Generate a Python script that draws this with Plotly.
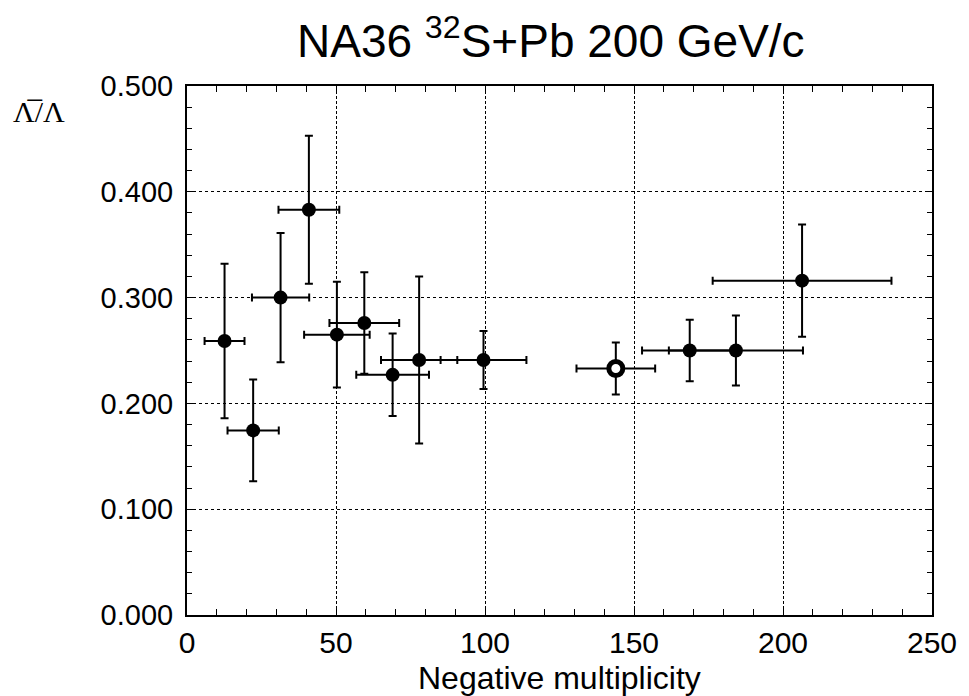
import plotly.graph_objects as go

# Data
mult = [12.6, 22.2, 31.4, 40.9, 50.3, 59.5, 69.0, 77.9, 99.5, 168.7, 184.2, 206.4]
mult_err = [6.7, 8.6, 9.6, 10.2, 11.0, 11.7, 12.2, 12.8, 14.4, 16.0, 22.5, 30.0]
ratio = [0.259, 0.1745, 0.300, 0.383, 0.265, 0.276, 0.227, 0.241, 0.241, 0.250, 0.250, 0.316]
ratio_err = [0.073, 0.048, 0.061, 0.070, 0.050, 0.048, 0.039, 0.079, 0.0275, 0.029, 0.033, 0.053]

# Point drawn with hollow centre
mult_open = [143.9]
mult_open_err = [13.2]
ratio_open = [0.233]
ratio_open_err = [0.0245]

x_ticks = [0, 50, 100, 150, 200, 250]
y_ticks = [0.0, 0.1, 0.2, 0.3, 0.4, 0.5]

ink = "black"
err_style = dict(type="data", color=ink, thickness=2, width=4)

fig = go.Figure()
fig.add_trace(go.Scatter(
    x=mult, y=ratio, mode="markers",
    marker=dict(symbol="circle", size=14, color=ink),
    error_x=dict(array=mult_err, **err_style),
    error_y=dict(array=ratio_err, **err_style),
    showlegend=False,
))
fig.add_trace(go.Scatter(
    x=mult_open, y=ratio_open, mode="markers",
    marker=dict(symbol="circle", size=14, color="white", line=dict(color=ink, width=5)),
    error_x=dict(array=mult_open_err, **err_style),
    error_y=dict(array=ratio_open_err, **err_style),
    showlegend=False,
))

font_main = "Liberation Sans, Arial, sans-serif"

fig.update_layout(
    width=969, height=696,
    margin=dict(l=187, r=34, t=86, b=81),
    paper_bgcolor="white", plot_bgcolor="white",
    font=dict(family=font_main, color=ink, size=28),
    xaxis=dict(
        range=[0, 250], tickvals=x_ticks, ticktext=[str(v) for v in x_ticks],
        showline=True, linecolor=ink, linewidth=2, mirror="allticks",
        ticks="inside", ticklen=6, tickcolor=ink, tickwidth=1,
        minor=dict(dtick=10, ticks="inside", ticklen=6, tickcolor=ink, tickwidth=1, showgrid=False),
        showgrid=True, gridcolor=ink, gridwidth=1, griddash="3px,2px",
        zeroline=False, tickfont=dict(size=30), ticklabelstandoff=0,
    ),
    yaxis=dict(
        range=[0, 0.5], tickvals=y_ticks, ticktext=["%.3f" % v for v in y_ticks],
        showline=True, linecolor=ink, linewidth=2, mirror="allticks",
        ticks="inside", ticklen=6, tickcolor=ink, tickwidth=1,
        minor=dict(dtick=0.02, ticks="inside", ticklen=5, tickcolor=ink, tickwidth=1, showgrid=False),
        showgrid=True, gridcolor=ink, gridwidth=1, griddash="dot",
        zeroline=False, tickfont=dict(size=29), ticklabelstandoff=6,
    ),
    annotations=[
        dict(text="NA36 <sup>32</sup>S+Pb 200 GeV/c", xref="paper", yref="paper",
             x=0.488, y=1.09, xanchor="center", yanchor="middle", showarrow=False,
             font=dict(size=46, family=font_main)),
        dict(text="Negative multiplicity", xref="paper", yref="paper",
             x=0.5, y=-0.12, xanchor="center", yanchor="middle", showarrow=False,
             font=dict(size=32, family=font_main)),
        dict(text="\u039b\u0305/\u039b", xref="paper", yref="paper",
             x=-0.199, y=0.951, xanchor="center", yanchor="middle", showarrow=False,
             font=dict(size=30, family="Liberation Serif, DejaVu Serif, serif")),
    ],
)

fig.write_html("out.html")
